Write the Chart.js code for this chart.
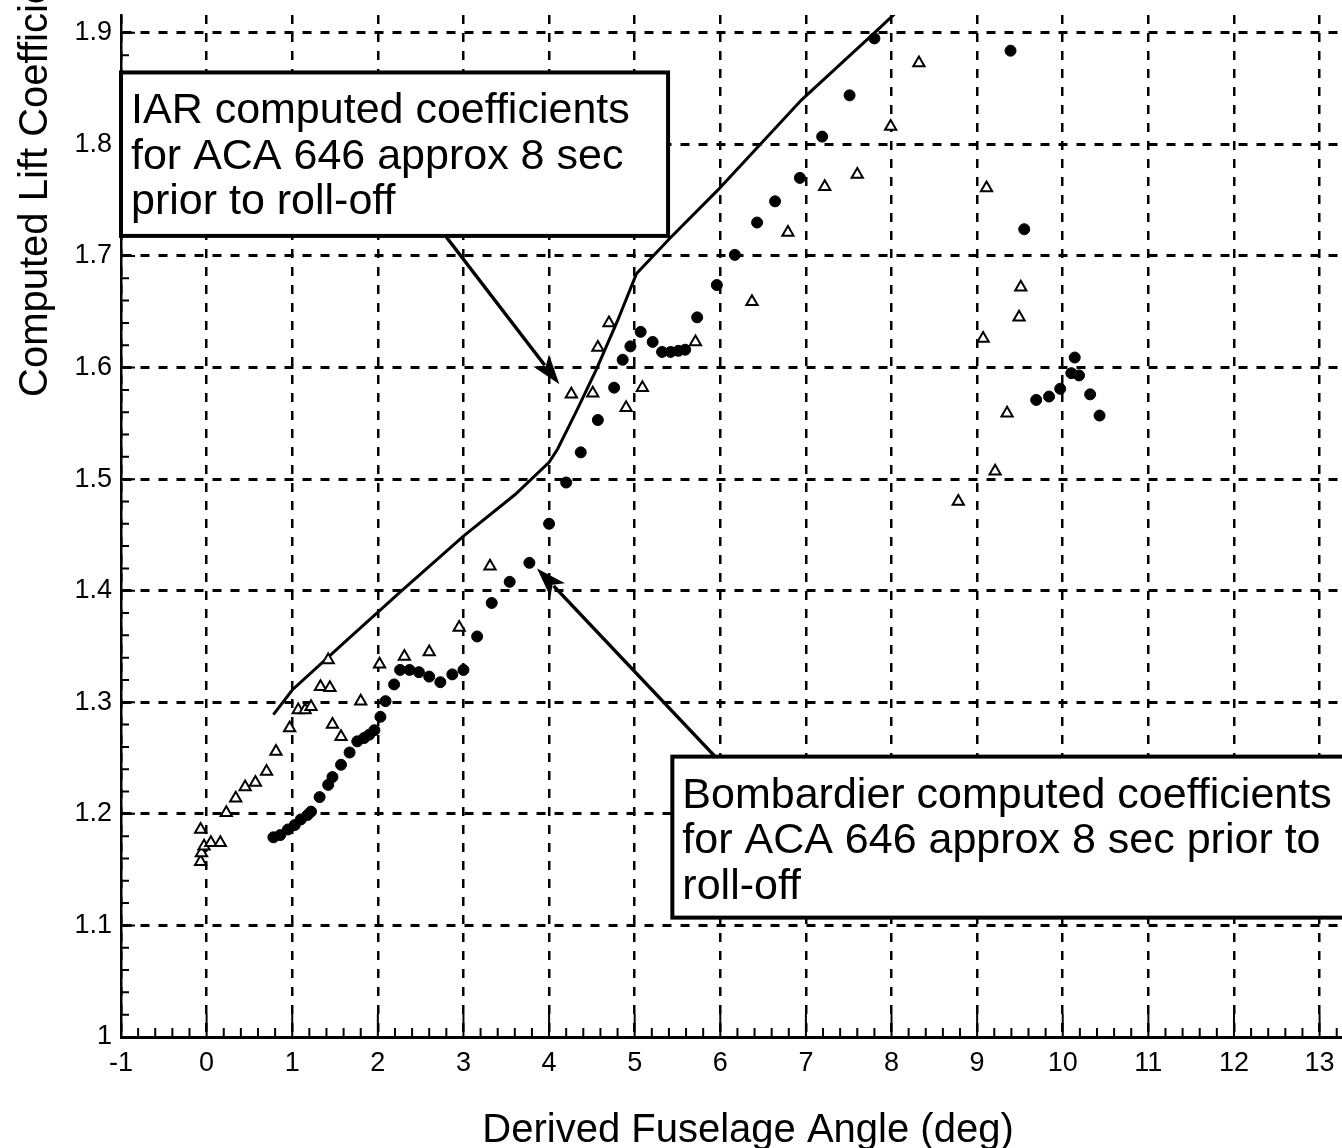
<!DOCTYPE html>
<html>
<head>
<meta charset="utf-8">
<script src="https://cdn.jsdelivr.net/npm/chart.js@4.4.1/dist/chart.umd.min.js"></script>
<style>
html, body { margin:0; padding:0; background:#fff; overflow:hidden; }
#wrap { width:1342px; height:1148px; overflow:hidden; }
</style>
</head>
<body>
<div id="wrap"><canvas id="myChart" width="1400" height="1148"></canvas></div>
<script>
// solid curve
const lineX = [0.78, 1.0, 1.6, 2.25, 3.0, 3.6, 4.0, 4.1, 4.32, 4.55, 4.8, 5.02, 5.4, 5.97, 6.95, 7.8, 8.05];
const lineY = [1.289, 1.311, 1.353, 1.398, 1.449, 1.486, 1.515, 1.527, 1.561, 1.598, 1.642, 1.684, 1.715, 1.759, 1.840, 1.900, 1.918];

// filled circles
const circX = [0.78, 0.86, 0.95, 1.03, 1.10, 1.18, 1.22, 1.32, 1.42, 1.47, 1.57, 1.67, 1.76, 1.84, 1.90, 1.96,
  2.03, 2.09, 2.19, 2.26, 2.37, 2.48, 2.60, 2.73, 2.87, 3.00, 3.16, 3.33, 3.54, 3.77, 4.00, 4.20, 4.37, 4.57,
  4.76, 4.86, 4.95, 5.07, 5.21, 5.32, 5.42, 5.51, 5.59, 5.73, 5.96, 6.17, 6.43, 6.64, 6.93, 7.19, 7.51, 7.80,
  9.39, 9.55, 9.69, 9.84, 9.97, 10.14, 10.10, 10.19, 10.32, 10.43];
const circY = [1.179, 1.181, 1.186, 1.190, 1.195, 1.199, 1.202, 1.215, 1.226, 1.233, 1.244, 1.255, 1.265, 1.268, 1.271, 1.275,
  1.287, 1.301, 1.316, 1.329, 1.329, 1.327, 1.323, 1.318, 1.325, 1.329, 1.359, 1.389, 1.408, 1.425, 1.460, 1.497, 1.524, 1.553,
  1.582, 1.607, 1.619, 1.632, 1.623, 1.614, 1.614, 1.615, 1.616, 1.645, 1.674, 1.701, 1.730, 1.749, 1.770, 1.807, 1.844, 1.895,
  1.884, 1.724, 1.571, 1.574, 1.581, 1.609, 1.595, 1.593, 1.576, 1.557];

// open triangles
const triX = [-0.07, -0.06, -0.03, 0.05, 0.16, -0.07, 0.23, 0.34, 0.45, 0.57, 0.70, 0.81, 0.97, 1.07, 1.15, 1.22,
  1.33, 1.44, 1.42, 1.47, 1.57, 1.80, 2.02, 2.31, 2.60, 2.95, 3.31, 4.26, 4.51, 4.57, 4.70, 4.90, 5.09, 5.71,
  6.37, 6.79, 7.22, 7.60, 7.99, 8.32, 8.78, 9.07, 9.11, 9.21, 9.35, 9.49, 9.51];
const triY = [1.157, 1.165, 1.171, 1.174, 1.174, 1.186, 1.201, 1.214, 1.224, 1.228, 1.238, 1.256, 1.277, 1.293, 1.293, 1.296,
  1.314, 1.313, 1.338, 1.280, 1.269, 1.301, 1.334, 1.341, 1.345, 1.367, 1.422, 1.576, 1.577, 1.618, 1.640, 1.564, 1.582, 1.623,
  1.659, 1.721, 1.762, 1.773, 1.816, 1.873, 1.480, 1.626, 1.761, 1.507, 1.559, 1.645, 1.672];

const xMin = -1, xMax = 13.84, yMin = 1.0, yMax = 1.916;

// annotation boxes (data coords) and their text
const boxes = [
  {x0: -1, x1: 5.39, y0: 1.8645, y1: 1.718,
   lines: ['IAR computed coefficients', 'for ACA 646 approx 8 sec', 'prior to roll-off']},
  {x0: 5.44, x1: 14.5, y0: 1.2513, y1: 1.107,
   lines: ['Bombardier computed coefficients', 'for ACA 646 approx 8 sec prior to', 'roll-off']}
];
const arrows = [
  {from: [2.8, 1.717], to: [4.12, 1.585]},
  {from: [5.94, 1.2513], to: [3.86, 1.42]}
];

function pts(xs, ys) {
  return xs.map((x, i) => ({x: x, y: ys[i]}));
}

const fontFam = '"Liberation Sans", Arial, sans-serif';

const axisExtras = {
  id: 'axisExtras',
  beforeDatasetsDraw(chart) {
    const ctx = chart.ctx;
    const xs = chart.scales.x, ys = chart.scales.y;
    const a = chart.chartArea;
    ctx.save();
    ctx.strokeStyle = '#000';
    ctx.lineWidth = 2;
    ctx.beginPath();
    // bottom ticks, inward
    for (let k = -5; k <= 70; k++) {
      const v = k / 5;
      if (v > xMax) break;
      const px = xs.getPixelForValue(v);
      const len = (k % 5 === 0) ? 23 : 9;
      ctx.moveTo(px, a.bottom);
      ctx.lineTo(px, a.bottom - len);
    }
    // left ticks, inward
    for (let k = 50; k <= 95; k++) {
      const py = ys.getPixelForValue(k / 50);
      const len = (k % 5 === 0) ? 14 : 8;
      ctx.moveTo(a.left, py);
      ctx.lineTo(a.left + len, py);
    }
    ctx.stroke();
    ctx.restore();
  },
  afterDatasetsDraw(chart) {
    const ctx = chart.ctx;
    const xs = chart.scales.x, ys = chart.scales.y;
    ctx.save();
    ctx.font = '43px ' + fontFam;
    ctx.textBaseline = 'alphabetic';
    ctx.textAlign = 'left';
    boxes.forEach(b => {
      const l = xs.getPixelForValue(b.x0), r = xs.getPixelForValue(b.x1);
      const t = ys.getPixelForValue(b.y0), btm = ys.getPixelForValue(b.y1);
      ctx.fillStyle = '#fff';
      ctx.fillRect(l, t, r - l, btm - t);
      ctx.strokeStyle = '#000';
      ctx.lineWidth = 4;
      ctx.strokeRect(l, t, r - l, btm - t);
      ctx.fillStyle = '#000';
      b.lines.forEach((s, i) => ctx.fillText(s, l + 10, t + 51 + i * 45.5));
    });
    arrows.forEach(ar => {
      const x1 = xs.getPixelForValue(ar.from[0]), y1 = ys.getPixelForValue(ar.from[1]);
      const x2 = xs.getPixelForValue(ar.to[0]), y2 = ys.getPixelForValue(ar.to[1]);
      const ang = Math.atan2(y2 - y1, x2 - x1);
      const hl = 30, hw = 10;
      ctx.strokeStyle = '#000';
      ctx.lineWidth = 3.5;
      ctx.beginPath();
      ctx.moveTo(x1, y1);
      ctx.lineTo(x2 - Math.cos(ang) * hl * 0.8, y2 - Math.sin(ang) * hl * 0.8);
      ctx.stroke();
      ctx.fillStyle = '#000';
      ctx.beginPath();
      ctx.moveTo(x2, y2);
      ctx.lineTo(x2 - Math.cos(ang) * hl - Math.sin(ang) * hw, y2 - Math.sin(ang) * hl + Math.cos(ang) * hw);
      ctx.lineTo(x2 - Math.cos(ang) * hl * 0.75, y2 - Math.sin(ang) * hl * 0.75);
      ctx.lineTo(x2 - Math.cos(ang) * hl + Math.sin(ang) * hw, y2 - Math.sin(ang) * hl - Math.cos(ang) * hw);
      ctx.closePath();
      ctx.fill();
    });
    ctx.restore();
  },
  afterDraw(chart) {
    const ctx = chart.ctx;
    ctx.save();
    ctx.fillStyle = '#000';
    ctx.font = '40px ' + fontFam;
    ctx.textBaseline = 'alphabetic';
    ctx.textAlign = 'center';
    ctx.fillText('Derived Fuselage Angle (deg)', 748, 1142);
    ctx.translate(47, 397);
    ctx.rotate(-Math.PI / 2);
    ctx.textAlign = 'left';
    ctx.fillText('Computed Lift Coefficient', 0, 0);
    ctx.restore();
  }
};

const ctx = document.getElementById('myChart').getContext('2d');
new Chart(ctx, {
  type: 'scatter',
  data: {
    datasets: [
      {
        label: 'curve',
        data: pts(lineX, lineY),
        showLine: true,
        borderColor: '#000',
        borderWidth: 3,
        pointRadius: 0,
        tension: 0,
        order: 3
      },
      {
        label: 'circles',
        data: pts(circX, circY),
        pointStyle: 'circle',
        pointRadius: 5.5,
        backgroundColor: '#000',
        borderColor: '#000',
        borderWidth: 1,
        order: 2
      },
      {
        label: 'triangles',
        data: pts(triX, triY),
        pointStyle: 'triangle',
        pointRadius: 6.5,
        backgroundColor: '#fff',
        borderColor: '#000',
        borderWidth: 2,
        order: 1
      }
    ]
  },
  options: {
    responsive: false,
    animation: false,
    events: [],
    layout: { padding: { top: 15, right: 0, left: 0, bottom: 0 } },
    plugins: { legend: { display: false }, tooltip: { enabled: false }, title: { display: false } },
    scales: {
      x: {
        type: 'linear',
        min: xMin,
        max: xMax,
        afterFit: s => { s.height = 111; s.paddingLeft = 0; s.paddingRight = 0; },
        ticks: {
          stepSize: 1,
          includeBounds: false,
          autoSkip: false,
          maxRotation: 0,
          padding: 10,
          color: '#000',
          font: { family: fontFam, size: 27 },
          callback: v => String(v)
        },
        grid: { color: '#000', lineWidth: 2.5, drawTicks: false },
        border: { display: true, color: '#000', width: 3, dash: [9, 9] }
      },
      y: {
        type: 'linear',
        min: yMin,
        max: yMax,
        afterFit: s => { s.width = 121; s.paddingTop = 0; s.paddingBottom = 0; },
        ticks: {
          stepSize: 0.1,
          includeBounds: false,
          autoSkip: false,
          padding: 9,
          color: '#000',
          font: { family: fontFam, size: 27 },
          callback: v => (Math.abs(v - 1) < 1e-9 ? '1' : v.toFixed(1))
        },
        grid: { color: '#000', lineWidth: 3, drawTicks: false },
        border: { display: true, color: '#000', width: 2.5, dash: [9, 9] }
      }
    }
  },
  plugins: [axisExtras]
});
</script>
</body>
</html>
